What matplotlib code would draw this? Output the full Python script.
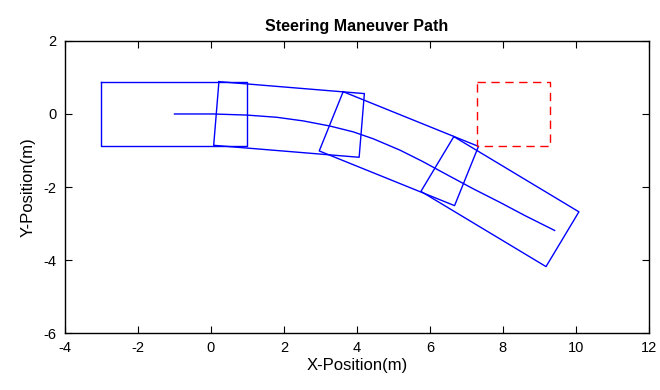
import numpy as np
import matplotlib.pyplot as plt

plt.rcParams['font.family'] = ['Liberation Sans', 'DejaVu Sans']
plt.rcParams['axes.unicode_minus'] = False

# reference path of the vehicle centre
path_x = [-1.0, 0.06, 0.98, 1.8, 2.53, 3.26, 3.9, 4.45, 5.18, 5.8, 6.5, 7.19, 7.92, 8.6, 9.42]
path_y = [0.0, 0.0, -0.03, -0.09, -0.19, -0.33, -0.49, -0.68, -0.99, -1.3, -1.68, -2.05, -2.42, -2.78, -3.19]

# vehicle poses (centre x, centre y, heading in degrees)
car_x = [-1.0, 2.14, 5.15, 7.92]
car_y = [0.0, -0.15, -0.95, -2.40]
car_heading = [0.0, -4.7, -22.0, -31.0]
CAR_LEN = 4.0
CAR_WID = 1.75

# obstacle box
obs_x = [7.3, 9.3, 9.3, 7.3, 7.3]
obs_y = [0.875, 0.875, -0.875, -0.875, 0.875]


def car_outline(cx, cy, deg):
    th = np.radians(deg)
    lx = np.array([-1, 1, 1, -1, -1]) * CAR_LEN / 2
    ly = np.array([1, 1, -1, -1, 1]) * CAR_WID / 2
    xs = cx + lx * np.cos(th) - ly * np.sin(th)
    ys = cy + lx * np.sin(th) + ly * np.cos(th)
    return xs, ys


fig = plt.figure(figsize=(6.6, 3.9), dpi=100)
ax = fig.add_axes([0.0985, 0.146, 0.8845, 0.749])

ax.plot(path_x, path_y, color='blue', lw=1.0)
for cx, cy, h in zip(car_x, car_y, car_heading):
    xs, ys = car_outline(cx, cy, h)
    ax.plot(xs, ys, color='blue', lw=1.0)
ax.plot(obs_x, obs_y, color='red', lw=1.0, linestyle=(0, (6, 4)))

ax.set_xlim(-4, 12)
ax.set_ylim(-6, 2)
ax.set_xticks(np.arange(-4, 13, 2))
ax.set_yticks(np.arange(-6, 3, 2))
ax.tick_params(direction='in', top=True, right=True, labelsize=10.5, length=5, width=0.8, pad=6)
for s in ax.spines.values():
    s.set_linewidth(1.0)

ax.set_title('Steering Maneuver Path', fontsize=11.5, fontweight='bold', pad=7)
ax.set_xlabel('X-Position(m)', fontsize=12, labelpad=2)
ax.set_ylabel('Y-Position(m)', fontsize=12, labelpad=6)

fig.savefig('out.png', dpi=100)
